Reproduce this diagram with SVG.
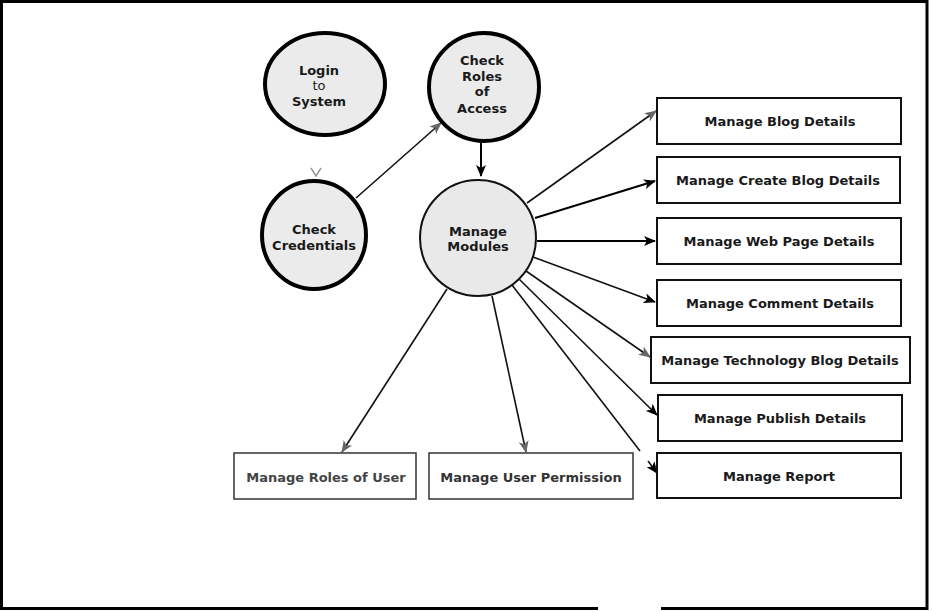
<svg xmlns="http://www.w3.org/2000/svg" width="932" height="612" viewBox="0 0 932 612">
<style>
text{font-family:"DejaVu Sans","Liberation Sans",sans-serif;font-weight:bold;font-size:13px;fill:#1a1a1a;text-anchor:middle}
.box{fill:#fff;stroke:#111;stroke-width:2}
.boxg{fill:#fff;stroke:#333;stroke-width:1.5}
.proc{fill:#ebebeb;stroke:#000;stroke-width:4}
.main{fill:#e9e9e9;stroke:#111;stroke-width:2}
.c{fill:none;stroke:#111;stroke-width:1.6}
.cb{stroke:#000;stroke-width:2;fill:none}
</style>
<defs>
<marker id="ab" viewBox="0 0 12 10" refX="11" refY="5" markerWidth="12" markerHeight="10" markerUnits="userSpaceOnUse" orient="auto">
<path d="M0,0 L12,5 L0,10 L3,5 z" fill="#000"/>
</marker>
<marker id="ag" viewBox="0 0 12 10" refX="11" refY="5" markerWidth="12" markerHeight="10" markerUnits="userSpaceOnUse" orient="auto">
<path d="M0,0 L12,5 L0,10 L3,5 z" fill="#666"/>
</marker>
</defs>
<rect width="932" height="612" fill="#fff"/>
<path d="M598,608.5 H1.5 V1.5 H927 V608.5 H661" fill="none" stroke="#000" stroke-width="3"/>

<g id="connectors">
<path class="c" d="M356,198 L441,123" marker-end="url(#ag)"/>
<path class="cb" d="M481,142 L481,176" marker-end="url(#ab)"/>
<path class="c" d="M527,203 L656,111" marker-end="url(#ag)"/>
<path class="cb" d="M535,218 L655,181" marker-end="url(#ab)"/>
<path class="cb" d="M537,241 L655,241" marker-end="url(#ab)"/>
<path class="c" d="M533,257 L655,302" marker-end="url(#ab)"/>
<path class="c" d="M526,271 L650,357" marker-end="url(#ag)"/>
<path class="c" d="M519,279 L657,415" marker-end="url(#ab)"/>
<path class="c" d="M512,285 L640,451"/>
<path class="c" d="M648,461 L657,473" marker-end="url(#ab)"/>
<path class="c" d="M447,289 L342,452" marker-end="url(#ag)"/>
<path class="c" d="M492,296 L526,452" marker-end="url(#ag)"/>
<path d="M311,168 L316,176 L321,168" fill="none" stroke="#999" stroke-width="1.5"/>
</g>

<g id="login">
<ellipse class="proc" cx="325" cy="84" rx="60" ry="51"/>
<text x="319" y="75">Login</text>
<text x="319" y="90" style="font-weight:normal">to</text>
<text x="319" y="106">System</text>
</g>
<g id="check-roles">
<ellipse class="proc" cx="484" cy="87" rx="55" ry="54"/>
<text x="482" y="65">Check</text>
<text x="482" y="81">Roles</text>
<text x="482" y="96">of</text>
<text x="482" y="113">Access</text>
</g>
<g id="check-credentials">
<ellipse class="proc" cx="314" cy="235" rx="52" ry="54"/>
<text x="314" y="234">Check</text>
<text x="314" y="250">Credentials</text>
</g>
<g id="manage-modules">
<circle class="main" cx="478" cy="238" r="58"/>
<text x="478" y="236">Manage</text>
<text x="478" y="251">Modules</text>
</g>

<g id="blog-details">
<rect class="box" x="657" y="98" width="244" height="46"/>
<text x="780" y="126">Manage Blog Details</text>
</g>
<g id="create-blog">
<rect class="box" x="657" y="157" width="243" height="46"/>
<text x="778" y="185">Manage Create Blog Details</text>
</g>
<g id="web-page">
<rect class="box" x="657" y="218" width="244" height="46"/>
<text x="779" y="246">Manage Web Page Details</text>
</g>
<g id="comment">
<rect class="box" x="657" y="280" width="244" height="46"/>
<text x="780" y="308">Manage Comment Details</text>
</g>
<g id="technology">
<rect class="box" x="651" y="337" width="259" height="46"/>
<text x="780" y="365">Manage Technology Blog Details</text>
</g>
<g id="publish">
<rect class="box" x="658" y="395" width="244" height="46"/>
<text x="780" y="423">Manage Publish Details</text>
</g>
<g id="report">
<rect class="box" x="657" y="453" width="244" height="45"/>
<text x="779" y="481">Manage Report</text>
</g>
<g id="roles-of-user">
<rect class="boxg" x="234" y="453" width="182" height="46"/>
<text x="326" y="482" style="fill:#444">Manage Roles of User</text>
</g>
<g id="user-permission">
<rect class="boxg" x="429" y="453" width="204" height="46"/>
<text x="531" y="482" style="fill:#333">Manage User Permission</text>
</g>
</svg>
